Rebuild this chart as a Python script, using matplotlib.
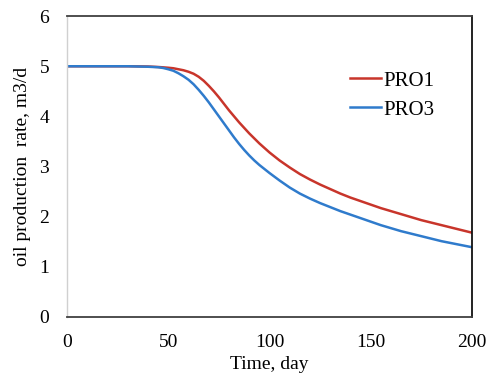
import matplotlib
matplotlib.use("Agg")
from matplotlib import pyplot as plt

# production history, day vs rate (m3/d)
days = [0, 10, 20, 30, 40, 45, 47.5, 50, 52.5, 55, 57.5, 60, 62.5, 65, 67.5, 70,
        72.5, 75, 77.5, 80, 82.5, 85, 87.5, 90, 92.5, 95, 97.5, 100, 105, 110,
        115, 120, 125, 130, 135, 140, 145, 150, 155, 160, 165, 170, 175, 180,
        185, 190, 195, 200]
pro1 = [5.0, 5.0, 5.0, 5.0, 4.995, 4.985, 4.978, 4.97, 4.96, 4.94, 4.92, 4.89,
        4.85, 4.79, 4.71, 4.61, 4.50, 4.38, 4.25, 4.12, 4.00, 3.88, 3.77, 3.66,
        3.56, 3.46, 3.37, 3.28, 3.12, 2.98, 2.85, 2.74, 2.64, 2.55, 2.46, 2.38,
        2.31, 2.24, 2.17, 2.11, 2.05, 1.99, 1.93, 1.88, 1.83, 1.78, 1.73, 1.68]
pro3 = [5.0, 5.0, 5.0, 5.0, 4.99, 4.98, 4.965, 4.94, 4.91, 4.86, 4.80, 4.73,
        4.64, 4.53, 4.41, 4.28, 4.14, 4.00, 3.86, 3.72, 3.58, 3.45, 3.33, 3.22,
        3.12, 3.03, 2.95, 2.87, 2.72, 2.58, 2.46, 2.36, 2.27, 2.19, 2.11, 2.04,
        1.97, 1.90, 1.83, 1.77, 1.71, 1.66, 1.61, 1.56, 1.51, 1.47, 1.43, 1.39]

plt.rcParams['font.family'] = ['Liberation Serif', 'DejaVu Serif']

fig = plt.figure(figsize=(4.9, 3.75), dpi=100)
ax = fig.add_axes([0.137, 0.155, 0.826, 0.802])

ax.plot(days, pro1, color='#C8352B', lw=1.8, label='PRO1')
ax.plot(days, pro3, color='#2F7BCC', lw=1.8, label='PRO3')

ax.set_xlim(0, 200)
ax.set_ylim(0, 6)
ax.set_xticks([0, 50, 100, 150, 200])
ax.set_yticks(range(0, 7))
ax.tick_params(length=0, labelsize=14)
ax.tick_params(axis='x', pad=12)
ax.tick_params(axis='y', pad=13)

for s in ['top', 'bottom']:
    ax.spines[s].set_color('#404040')
    ax.spines[s].set_linewidth(1.3)
ax.spines['right'].set_color('#111111')
ax.spines['right'].set_linewidth(1.3)
ax.spines['left'].set_color('#D0D0D0')
ax.spines['left'].set_linewidth(1.0)

ax.set_xlabel('Time, day', fontsize=14, labelpad=4)
ax.set_ylabel('oil production  rate, m3/d', fontsize=14, labelpad=6)

ax.legend(loc='upper left', bbox_to_anchor=(0.652, 0.88), frameon=False,
          fontsize=15, handlelength=1.5, handletextpad=0.1, labelspacing=0.45)

fig.savefig('out.png', dpi=100)
